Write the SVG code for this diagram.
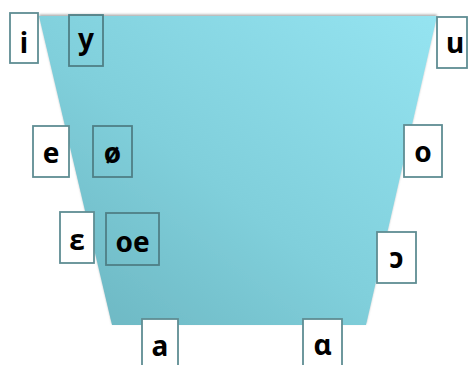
<svg xmlns="http://www.w3.org/2000/svg" width="468" height="365" viewBox="0 0 468 365">
<defs>
<linearGradient id="fillG" x1="1" y1="0" x2="0" y2="1">
<stop offset="0" stop-color="#95e4f1"/>
<stop offset="0.55" stop-color="#80cfdb"/>
<stop offset="1" stop-color="#6ab4bf"/>
</linearGradient>
<filter id="sh" x="-5%" y="-5%" width="110%" height="110%">
<feDropShadow dx="0" dy="-1.5" stdDeviation="1.3" flood-color="#777" flood-opacity="0.6"/>
</filter>
</defs>
<style>
.box{stroke:#5f8d93;stroke-width:1.8}
.w{fill:#ffffff}
.t{fill:none;stroke:#4f7f86}
.lbl{font-family:"Noto Sans","DejaVu Sans",sans-serif;font-weight:bold;font-size:28px;fill:#000;text-anchor:middle}
</style>
<polygon id="trapezoid" points="39,16 437,16 366,325 112,325" fill="url(#fillG)" filter="url(#sh)"/>
<g id="node-i"><rect class="box w" x="10" y="13" width="28" height="50"/><text class="lbl" x="24" y="53">i</text></g>
<g id="node-y"><rect class="box t" x="69" y="15" width="34" height="51"/><text class="lbl" x="86" y="49">y</text></g>
<g id="node-u"><rect class="box w" x="437" y="17" width="30" height="51"/><text class="lbl" x="455" y="53">u</text></g>
<g id="node-e"><rect class="box w" x="33" y="126" width="36" height="51"/><text class="lbl" x="51" y="163">e</text></g>
<g id="node-oslash"><rect class="box t" x="93" y="126" width="39" height="51"/><text class="lbl" x="112.5" y="163">ø</text></g>
<g id="node-o"><rect class="box w" x="404" y="125" width="38" height="52"/><text class="lbl" x="423" y="162">o</text></g>
<g id="node-epsilon"><rect class="box w" x="60" y="212" width="34" height="51"/><text class="lbl" x="77" y="250">ɛ</text></g>
<g id="node-oe"><rect class="box t" x="106" y="213" width="53" height="52"/><text class="lbl" x="132.5" y="252">oe</text></g>
<g id="node-open-o"><rect class="box w" x="377" y="232" width="39" height="51"/><text class="lbl" x="396.5" y="268">ɔ</text></g>
<g id="node-a"><rect class="box w" x="142" y="319" width="36" height="50"/><text class="lbl" x="160" y="356">a</text></g>
<g id="node-alpha"><rect class="box w" x="303" y="319" width="39" height="50"/><text class="lbl" x="322.5" y="355">ɑ</text></g>
</svg>
